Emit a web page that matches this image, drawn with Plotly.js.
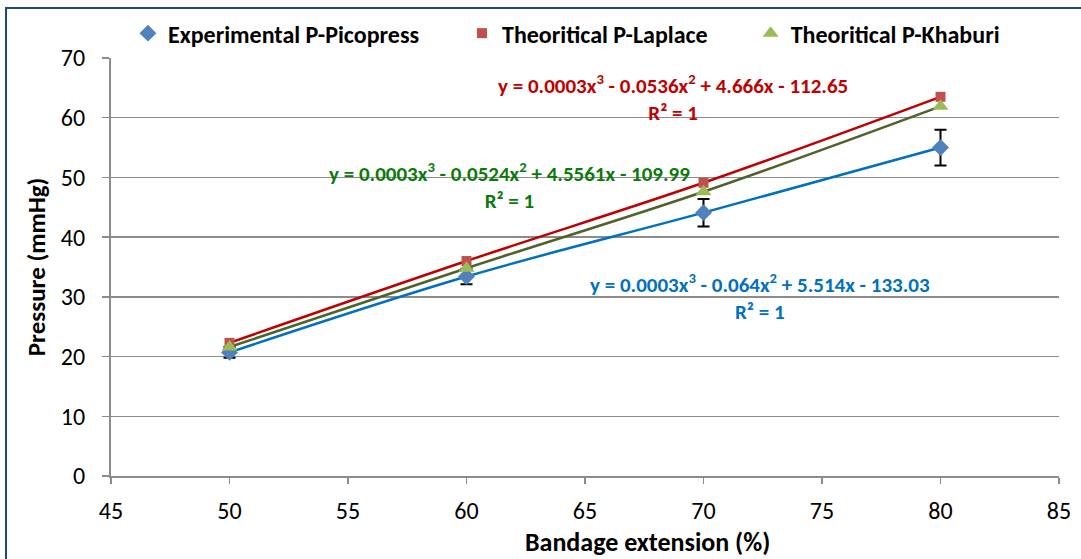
<!DOCTYPE html>
<html>
<head>
<meta charset="utf-8">
<script src="https://cdn.plot.ly/plotly-3.0.1.min.js"></script>
<style>
  html, body { margin: 0; padding: 0; background: #fff; overflow: hidden; }
  #frame { position: absolute; left: 5px; top: 7px; width: 1100px; height: 600px; border: 2px solid #1F497D; pointer-events: none; z-index: 10; }
  #chart { position: absolute; left: 0; top: 0; width: 1081px; height: 559px; }
</style>
</head>
<body>
<div id="chart"></div>
<div id="frame"></div>
<script>
const extension = [50, 60, 70, 80];
const expPicopress = [20.7, 33.4, 44.1, 55.0];
const expError = [0.9, 1.3, 2.3, 3.0];
const theoLaplace = [22.3, 36.0, 49.1, 63.5];
const theoKhaburi = [21.6, 34.8, 47.6, 61.9];
const xTicks = [45, 50, 55, 60, 65, 70, 75, 80, 85];
const yTicks = [0, 10, 20, 30, 40, 50, 60, 70];

const FONT = "Carlito, Lato, 'Open Sans', sans-serif";
const PAD = '\u00a0\u00a0\u00a0\u00a0\u00a0\u00a0\u00a0';

const traces = [
  { x: extension, y: expPicopress, mode: 'lines', line: { color: '#0070C0', width: 2.5, shape: 'spline' }, showlegend: false, hoverinfo: 'skip' },
  { x: extension, y: theoKhaburi, mode: 'lines', line: { color: '#4F6228', width: 2.5, shape: 'spline' }, showlegend: false, hoverinfo: 'skip' },
  { x: extension, y: theoLaplace, mode: 'lines', line: { color: '#C00000', width: 2.5, shape: 'spline' }, showlegend: false, hoverinfo: 'skip' },
  { x: extension, y: expPicopress, mode: 'markers', name: 'Experimental P-Picopress' + PAD,
    marker: { symbol: 'diamond', size: 13, color: '#4F81BD' },
    error_y: { type: 'data', array: expError, visible: true, color: '#000', thickness: 2, width: 6 } },
  { x: extension, y: theoLaplace, mode: 'markers', name: 'Theoritical P-Laplace' + PAD,
    marker: { symbol: 'square', size: 10, color: '#C0504D' } },
  { x: extension, y: theoKhaburi, mode: 'markers', name: 'Theoritical P-Khaburi',
    marker: { symbol: 'triangle-up', size: 14, color: '#9BBB59' } }
];

function eq(x, y, text, color) {
  return { x: x, y: y, xref: 'x', yref: 'y', text: text, showarrow: false,
    font: { family: FONT, size: 21, color: color, weight: 'bold' }, xanchor: 'center', yanchor: 'middle' };
}

const layout = {
  width: 1081, height: 559,
  margin: { l: 111, r: 22, t: 58, b: 83, autoexpand: false },
  paper_bgcolor: '#fff', plot_bgcolor: '#fff',
  font: { family: FONT, size: 24, color: '#000' },
  showlegend: true,
  legend: { orientation: 'h', xref: 'container', yref: 'container', x: 0.524, xanchor: 'center', y: 0.94, yanchor: 'middle',
    font: { family: FONT, size: 24, weight: 'bold' }, itemwidth: 30, tracegroupgap: 0 },
  xaxis: {
    range: [45, 85], tickvals: xTicks, ticktext: xTicks.map(String),
    showgrid: false, zeroline: false, showline: true, linecolor: '#8C8C8C', linewidth: 2,
    ticks: 'outside', ticklen: 6, tickcolor: '#8C8C8C', tickwidth: 1.5,
    tickfont: { family: FONT, size: 24 }, ticklabelstandoff: 6
  },
  yaxis: {
    range: [0, 70], tickvals: yTicks, ticktext: yTicks.map(String),
    showgrid: true, gridcolor: '#8C8C8C', gridwidth: 1.5, zeroline: false,
    showline: true, linecolor: '#8C8C8C', linewidth: 2,
    ticks: 'outside', ticklen: 7, tickcolor: '#8C8C8C', tickwidth: 1.5,
    tickfont: { family: FONT, size: 24 }, ticklabelstandoff: 12,
    title: { text: 'Pressure (mmHg)', font: { family: FONT, size: 25, weight: 'bold' }, standoff: 8 }
  },
  annotations: [
    { text: 'Bandage extension (%)', xref: 'paper', yref: 'paper', x: 0.566, y: -0.158,
      xanchor: 'center', yanchor: 'middle', showarrow: false,
      font: { family: FONT, size: 26, weight: 'bold', color: '#000' } },
    eq(68.7, 63.3, 'y = 0.0003x<sup>3</sup> - 0.0536x<sup>2</sup> + 4.666x - 112.65<br>R² = 1', '#C00000'),
    eq(61.8, 48.6, 'y = 0.0003x<sup>3</sup> - 0.0524x<sup>2</sup> + 4.5561x - 109.99<br>R² = 1', '#0B7A0B'),
    eq(72.4, 29.9, 'y = 0.0003x<sup>3</sup> - 0.064x<sup>2</sup> + 5.514x - 133.03<br>R² = 1', '#0070C0')
  ]
};

Plotly.newPlot('chart', traces, layout, { displayModeBar: false, staticPlot: true });
</script>
</body>
</html>
